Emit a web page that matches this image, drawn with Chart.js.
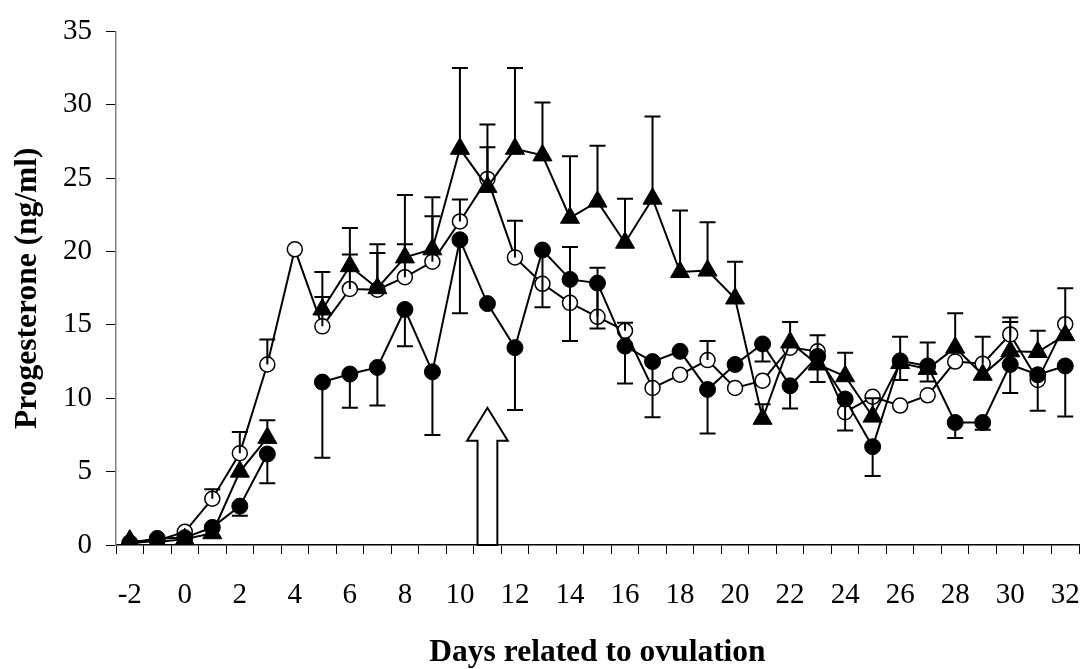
<!DOCTYPE html>
<html>
<head>
<meta charset="utf-8">
<title>Progesterone</title>
<script src="https://cdn.jsdelivr.net/npm/chart.js@4/dist/chart.umd.min.js"></script>
<style>
  body { margin: 0; background: #fff; }
  #wrap { width: 1085px; height: 669px; position: relative; }
</style>
</head>
<body>
<div id="wrap"><canvas id="progChart"></canvas></div>
<script>
// days related to ovulation (-2 .. 32)
let days = [];
for (let d = -2; d <= 32; d++) days.push(String(d));

// triangles (error bars drawn upward)
let triangleValues = [0.3, 0.2, 0.4, 0.8, 5.0, 7.3, null, 16.05, 19.0, 17.5, 19.6, 20.15, 27.0, 24.4, 27.0, 26.55,
    22.3, 23.4, 20.6, 23.6, 18.6, 18.7, 16.8, 8.6, 13.8, 12.3, 11.5, 8.75, 12.4, 12.0, 13.45, 11.6, 13.2, 13.15, 14.3];
let triangleErrors = [0, 0, 0, 0, 0, 1.2, 0, 2.55, 2.6, 3.0, 4.25, 3.55, 5.5, 2.7, 5.5, 3.6,
    4.2, 3.8, 3.0, 5.6, 4.2, 3.3, 2.5, 1.0, 1.4, 0, 1.6, 1.25, 1.8, 1.8, 2.35, 0, 2.0, 1.45, 3.2];

// filled circles (error bars drawn downward)
let filledValues = [0.15, 0.45, 0.5, 1.2, 2.65, 6.2, null, 11.1, 11.65, 12.1, 16.05, 11.8, 20.8, 16.45, 13.45, 20.1,
    18.1, 17.85, 13.55, 12.5, 13.2, 10.6, 12.3, 13.7, 10.85, 12.85, 9.95, 6.7, 12.55, 12.2, 8.35, 8.35, 12.3, 11.6, 12.2];
let filledErrors = [0, 0, 0, 0, 0.65, 2.0, 0, 5.15, 2.3, 2.6, 2.5, 4.3, 5.0, 0, 4.25, 3.9,
    4.2, 3.1, 2.55, 3.8, 0, 3.0, 0, 1.2, 1.55, 1.75, 2.15, 2.0, 1.3, 1.05, 1.05, 0.5, 1.95, 2.45, 3.45];

// open circles (error bars drawn upward)
let openValues = [0.1, 0.3, 0.9, 3.15, 6.25, 12.3, 20.15, 14.9, 17.45, 17.4, 18.25, 19.3, 22.05, 24.95, 19.6, 17.8,
    16.5, 15.55, 14.6, 10.7, 11.6, 12.6, 10.7, 11.2, 13.45, 13.2, 9.05, 10.1, 9.5, 10.2, 12.5, 12.35, 14.35, 11.25, 15.05];
let openErrors = [0, 0, 0, 0.65, 1.45, 1.7, 0, 2.0, 2.35, 2.5, 2.25, 3.1, 1.5, 3.7, 2.5, 0,
    3.8, 3.35, 0.55, 0, 0, 1.3, 0, 0, 0, 1.1, 0, 0, 0, 0, 0, 1.85, 1.15, 0, 0];

let yTicks = [0, 5, 10, 15, 20, 25, 30, 35];

// ovulation arrow (day and value range)
let arrowDay = "11";
let arrowTip = 9.35;
let arrowHeadBase = 7.1;

const serif = "'Liberation Serif', 'Times New Roman', serif";

const errorBars = {
    id: "errorBars",
    afterDatasetsDraw(chart) {
        let ctx = chart.ctx;
        let y = chart.scales.y;
        ctx.save();
        ctx.strokeStyle = "#000";
        ctx.lineWidth = 2;
        chart.data.datasets.forEach(function(ds, i) {
            let meta = chart.getDatasetMeta(i);
            ds.data.forEach(function(v, j) {
                let e = ds.errors[j];
                if (v === null || !e) return;
                let px = meta.data[j].x;
                let y0 = y.getPixelForValue(v);
                let y1 = y.getPixelForValue(v + ds.errorDir * e);
                ctx.beginPath();
                ctx.moveTo(px, y0);
                ctx.lineTo(px, y1);
                ctx.moveTo(px - 8, y1);
                ctx.lineTo(px + 8, y1);
                ctx.stroke();
            });
        });
        ctx.restore();
    }
};

const ovulationArrow = {
    id: "ovulationArrow",
    afterDatasetsDraw(chart) {
        let ctx = chart.ctx;
        let x = chart.scales.x;
        let y = chart.scales.y;
        let cx = x.getPixelForValue(days.indexOf(arrowDay));
        let w = x.getPixelForValue(1) - x.getPixelForValue(0);
        let shaft = w * 0.36;
        let head = w * 0.74;
        let tip = y.getPixelForValue(arrowTip);
        let base = y.getPixelForValue(arrowHeadBase);
        let bottom = y.getPixelForValue(0);
        ctx.save();
        ctx.beginPath();
        ctx.moveTo(cx - shaft, bottom);
        ctx.lineTo(cx - shaft, base);
        ctx.lineTo(cx - head, base);
        ctx.lineTo(cx, tip);
        ctx.lineTo(cx + head, base);
        ctx.lineTo(cx + shaft, base);
        ctx.lineTo(cx + shaft, bottom);
        ctx.closePath();
        ctx.fillStyle = "#fff";
        ctx.fill();
        ctx.strokeStyle = "#000";
        ctx.lineWidth = 2;
        ctx.stroke();
        ctx.restore();
    }
};

let ctx = document.getElementById("progChart").getContext("2d");
new Chart(ctx, {
    type: "line",
    data: {
        labels: days,
        datasets: [
            {
                label: "Triangles",
                data: triangleValues,
                errors: triangleErrors,
                errorDir: 1,
                borderColor: "#000",
                borderWidth: 2,
                pointStyle: "triangle",
                pointRadius: 11,
                pointBackgroundColor: "#000",
                pointBorderColor: "#000",
                pointBorderWidth: 1,
                spanGaps: false,
                tension: 0
            },
            {
                label: "Filled circles",
                data: filledValues,
                errors: filledErrors,
                errorDir: -1,
                borderColor: "#000",
                borderWidth: 2,
                pointStyle: "circle",
                pointRadius: 8,
                pointBackgroundColor: "#000",
                pointBorderColor: "#000",
                pointBorderWidth: 1,
                spanGaps: false,
                tension: 0
            },
            {
                label: "Open circles",
                data: openValues,
                errors: openErrors,
                errorDir: 1,
                borderColor: "#000",
                borderWidth: 2,
                pointStyle: "circle",
                pointRadius: 7.5,
                pointBackgroundColor: "#fff",
                pointBorderColor: "#000",
                pointBorderWidth: 1.5,
                spanGaps: false,
                tension: 0
            }
        ]
    },
    options: {
        responsive: true,
        maintainAspectRatio: false,
        animation: false,
        layout: { autoPadding: false, padding: { left: 0, top: 24, right: 6, bottom: 0 } },
        plugins: {
            legend: { display: false },
            tooltip: { enabled: false }
        },
        scales: {
            x: {
                offset: true,
                grid: { offset: true, drawOnChartArea: false, color: "#000", tickLength: 9, lineWidth: 1 },
                border: { color: "#000", width: 1.5 },
                ticks: {
                    autoSkip: false,
                    maxRotation: 0,
                    padding: 24,
                    color: "#000",
                    font: { family: serif, size: 29 },
                    callback: function(v, i) { return i % 2 === 0 ? days[i] : ""; }
                },
                title: {
                    display: true,
                    text: "Days related to ovulation",
                    color: "#000",
                    font: { family: serif, size: 31.5, weight: "bold", lineHeight: 1.0 },
                    padding: 0
                },
                afterFit: function(scale) {
                    scale.height = 124;
                    scale.paddingLeft = 0;
                    scale.paddingRight = 0;
                }
            },
            y: {
                min: 0,
                max: 35,
                afterBuildTicks: function(scale) { scale.ticks = yTicks.map(function(v) { return { value: v }; }); },
                grid: { drawOnChartArea: false, color: "#000", tickLength: 10, lineWidth: 1 },
                border: { color: "#808080", width: 1.5 },
                ticks: {
                    padding: 14,
                    color: "#000",
                    font: { family: serif, size: 29 }
                },
                title: {
                    display: true,
                    text: "Progesterone (ng/ml)",
                    color: "#000",
                    font: { family: serif, size: 31.5, weight: "bold", lineHeight: 1.2 },
                    padding: { top: 9, bottom: 0 }
                },
                afterFit: function(scale) { scale.width = 116; }
            }
        }
    },
    plugins: [errorBars, ovulationArrow]
});
</script>
</body>
</html>
